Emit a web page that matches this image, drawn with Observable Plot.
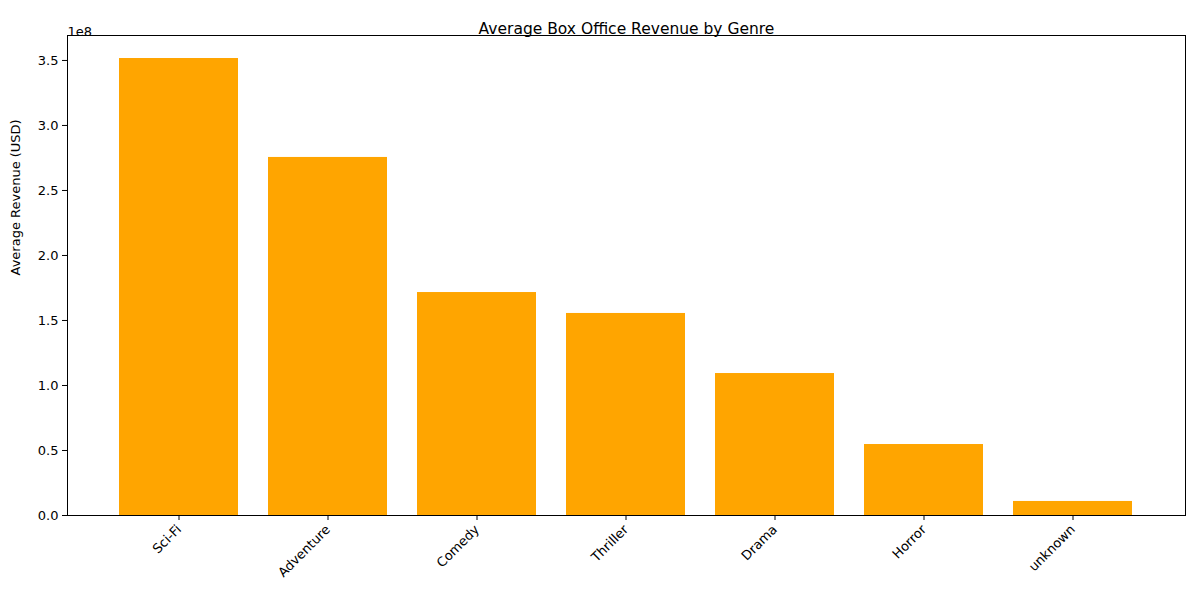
<!DOCTYPE html>
<html><head><meta charset="utf-8">
<script src="https://cdn.jsdelivr.net/npm/d3@7"></script>
<script src="https://cdn.jsdelivr.net/npm/@observablehq/plot@0.6"></script>
<style>body{margin:0;background:#fff;font-family:"DejaVu Sans",sans-serif}</style>
</head><body><div id="c"></div>
<script>
const genres = ["Sci-Fi","Adventure","Comedy","Thriller","Drama","Horror","unknown"];
const revenue = [3.515e8, 2.754e8, 1.715e8, 1.554e8, 1.092e8, 0.546e8, 0.108e8];
const yTicks = [0,0.5e8,1e8,1.5e8,2e8,2.5e8,3e8,3.5e8];
const data = genres.map((g,i)=>({genre:g, value:revenue[i]}));
const chart = Plot.plot({
  width:1200, height:600,
  marginTop:35, marginLeft:67, marginRight:15, marginBottom:85,
  style:{fontFamily:"DejaVu Sans, sans-serif", fontSize:"13px", color:"#000", background:"#fff"},
  x:{domain:genres, paddingInner:0.2, paddingOuter:0.334, label:null},
  y:{domain:[0,3.692e8], label:null},
  marks:[
    Plot.barY(data,{x:"genre", y:"value", fill:"orange"}),
    Plot.frame({stroke:"#000"}),
    Plot.axisY({ticks:yTicks, tickFormat:d=>(d/1e8).toFixed(1), tickSize:5, fontSize:13, label:null}),
    Plot.axisX({tickRotate:-45, tickSize:5, fontSize:13, label:null}),
    Plot.text(["Average Revenue (USD)"],{frameAnchor:"left", dx:-52, rotate:-90, fontSize:13}),
    Plot.text(["Average Box Office Revenue by Genre"],{frameAnchor:"top", dy:-13, fontSize:15.5}),
    Plot.text(["1e8"],{frameAnchor:"top-left", dy:-9, fontSize:13, textAnchor:"start"})
  ]
});
document.getElementById("c").appendChild(chart);
</script></body></html>
